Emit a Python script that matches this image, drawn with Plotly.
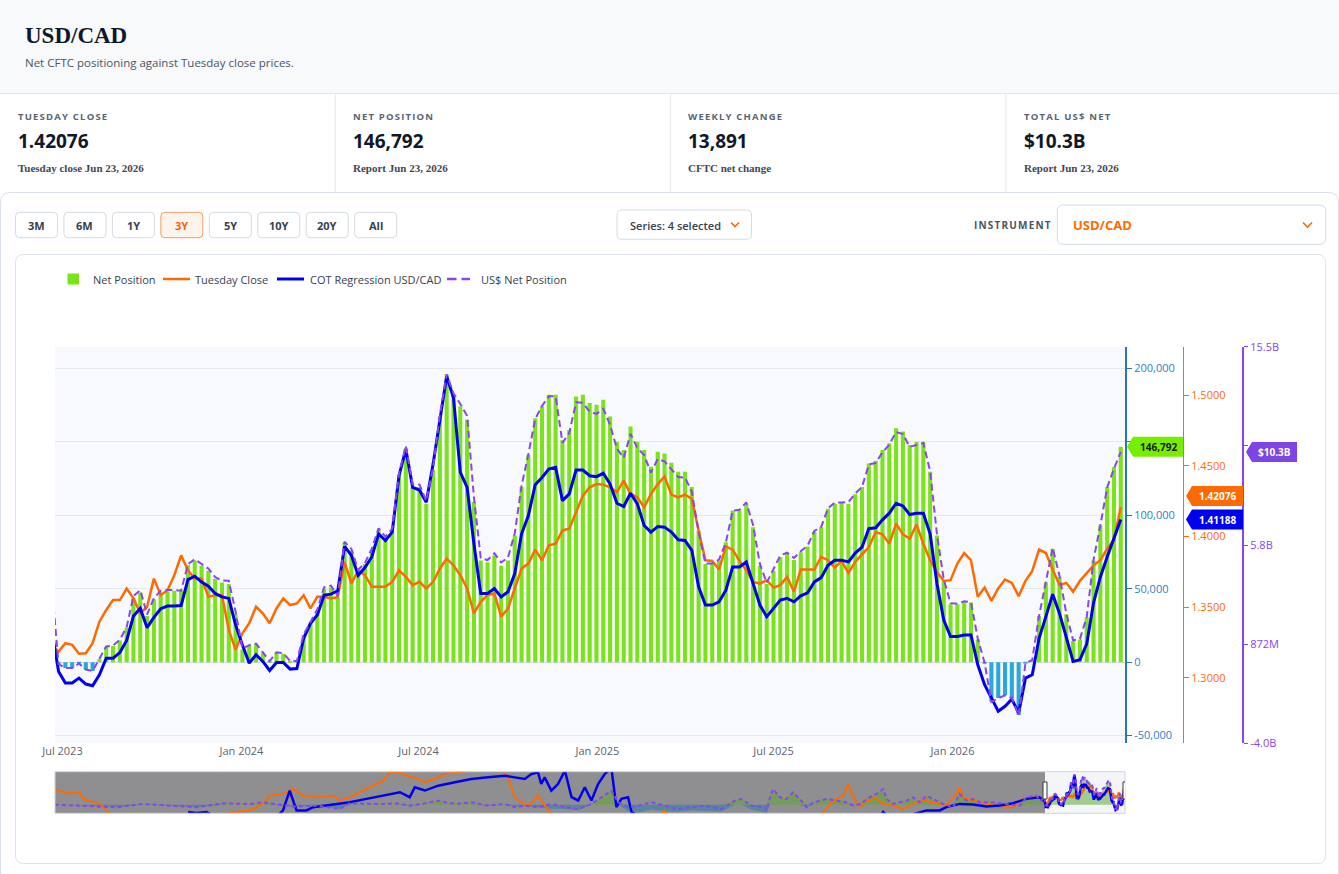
import plotly.graph_objects as go
import pandas as pd

W, H = 1339, 874
def P(x): return x / W
def Q(y): return 1 - y / H

SANS = "Open Sans, sans-serif"
SERIF = "Liberation Serif, Times New Roman, serif"

# ---------------- data (weekly CFTC reports, Tuesdays) ----------------
report_dates = pd.date_range("2023-06-20", "2026-06-23", freq="7D")

net_position = [
    50000, -1500, -4000, -4000, -1000, -5000, -6000, 2000, 10300, 11000,
    14800, 23500, 44000, 47500, 31500, 42900, 47500, 48200, 48600, 48600,
    66000, 69200, 65700, 62300, 56600, 54300, 53200, 32600, 8700, 11000,
    12100, 6400, 500, 6400, 5700, 700, 500, 18500, 27000, 35000,
    49800, 50900, 44000, 81700, 76000, 62300, 66900, 76000, 89700, 84000,
    89700, 127400, 145700, 119400, 119400, 108000, 130800, 167300, 195900, 182200,
    174200, 165100, 109100, 69200, 68000, 72600, 65700, 69200, 86300, 119400,
    141100, 166200, 174200, 182200, 182200, 151400, 158200, 181000, 182200, 176500,
    175300, 178800, 167300, 150200, 144500, 160500, 150200, 144500, 133100, 143400,
    142200, 135800, 129700, 129700, 119400, 89700, 66900, 66900, 69200, 81700,
    103400, 103400, 108000, 92000, 65700, 53200, 62300, 71500, 73700, 69600,
    74900, 78800, 88600, 92000, 104600, 108000, 108400, 108000, 114400, 119400,
    135400, 137200, 144500, 149100, 159400, 157100, 147900, 150200, 150200, 129700,
    86300, 55500, 39500, 39500, 41300, 40600, 15500, -500, -26700, -24400,
    -22600, -24400, -35900, -1000, 1400, 31500, 54300, 77200, 57800, 32600,
    14400, 15500, 30400, 69200, 93100, 119400, 132901, 146792,
]

tuesday_close = [
    1.3230, 1.3185, 1.3244, 1.3232, 1.3169, 1.3173, 1.3244, 1.3396, 1.3479, 1.3549,
    1.3549, 1.3631, 1.3561, 1.3455, 1.3502, 1.3701, 1.3584, 1.3619, 1.3725, 1.3866,
    1.3760, 1.3701, 1.3701, 1.3572, 1.3584, 1.3584, 1.3338, 1.3197, 1.3314, 1.3385,
    1.3502, 1.3455, 1.3385, 1.3490, 1.3561, 1.3514, 1.3525, 1.3584, 1.3490, 1.3572,
    1.3572, 1.3561, 1.3572, 1.3819, 1.3666, 1.3760, 1.3725, 1.3643, 1.3643, 1.3643,
    1.3678, 1.3760, 1.3713, 1.3655, 1.3678, 1.3631, 1.3678, 1.3772, 1.3842, 1.3795,
    1.3725, 1.3631, 1.3455, 1.3537, 1.3584, 1.3596, 1.3432, 1.3490, 1.3631, 1.3772,
    1.3807, 1.3906, 1.3831, 1.3936, 1.3948, 1.4042, 1.4054, 1.4171, 1.4288, 1.4347,
    1.4370, 1.4366, 1.4347, 1.4312, 1.4394, 1.4300, 1.4276, 1.4206, 1.4300, 1.4370,
    1.4424, 1.4295, 1.4276, 1.4295, 1.4265, 1.4042, 1.3831, 1.3826, 1.3765, 1.3929,
    1.3906, 1.3826, 1.3760, 1.3678, 1.3666, 1.3690, 1.3638, 1.3655, 1.3713, 1.3608,
    1.3765, 1.3765, 1.3765, 1.3854, 1.3831, 1.3779, 1.3826, 1.3741, 1.3819, 1.3873,
    1.3924, 1.4030, 1.4014, 1.3948, 1.4089, 1.4014, 1.3983, 1.4084, 1.3948, 1.3831,
    1.3748, 1.3685, 1.3690, 1.3807, 1.3882, 1.3831, 1.3572, 1.3638, 1.3544, 1.3631,
    1.3694, 1.3671, 1.3577, 1.3685, 1.3755, 1.3906, 1.3882, 1.3765, 1.3655, 1.3671,
    1.3608, 1.3685, 1.3737, 1.3795, 1.3831, 1.3913, 1.3976, 1.42076,
]

cot_regression = [
    1.3338, 1.3044, 1.2962, 1.2962, 1.2997, 1.2955, 1.2943, 1.3021, 1.3138, 1.3138,
    1.3178, 1.3263, 1.3436, 1.3490, 1.3354, 1.3427, 1.3488, 1.3507, 1.3507, 1.3511,
    1.3694, 1.3718, 1.3676, 1.3647, 1.3596, 1.3572, 1.3561, 1.3373, 1.3232, 1.3103,
    1.3162, 1.3115, 1.3051, 1.3108, 1.3108, 1.3061, 1.3065, 1.3279, 1.3385, 1.3443,
    1.3584, 1.3591, 1.3615, 1.3929, 1.3866, 1.3725, 1.3779, 1.3854, 1.4018, 1.3971,
    1.4030, 1.4429, 1.4617, 1.4347, 1.4328, 1.4241, 1.4511, 1.4816, 1.5133, 1.4981,
    1.4453, 1.4347, 1.3948, 1.3596, 1.3596, 1.3631, 1.3572, 1.3608, 1.3737, 1.4018,
    1.4147, 1.4366, 1.4417, 1.4476, 1.4488, 1.4253, 1.4300, 1.4469, 1.4469, 1.4429,
    1.4422, 1.4446, 1.4370, 1.4234, 1.4211, 1.4305, 1.4230, 1.4077, 1.4030, 1.4070,
    1.4065, 1.4030, 1.3976, 1.3971, 1.3901, 1.3643, 1.3514, 1.3514, 1.3537, 1.3619,
    1.3784, 1.3784, 1.3819, 1.3666, 1.3514, 1.3432, 1.3490, 1.3549, 1.3561, 1.3537,
    1.3579, 1.3601, 1.3678, 1.3708, 1.3795, 1.3831, 1.3831, 1.3819, 1.3882, 1.3924,
    1.4054, 1.4061, 1.4117, 1.4164, 1.4234, 1.4215, 1.4154, 1.4164, 1.4164, 1.4018,
    1.3666, 1.3408, 1.3291, 1.3291, 1.3302, 1.3302, 1.3091, 1.2950, 1.2857, 1.2763,
    1.2798, 1.2849, 1.2751, 1.2997, 1.3021, 1.3279, 1.3432, 1.3591, 1.3455, 1.3286,
    1.3115, 1.3127, 1.3239, 1.3530, 1.3713, 1.3854, 1.3983, 1.41188,
]

usd_net_bn = [
    3.78, -0.11, -0.30, -0.30, -0.08, -0.38, -0.45, 0.15, 0.76, 0.81,
    1.09, 1.72, 3.24, 3.53, 2.33, 3.13, 3.50, 3.54, 3.54, 3.50,
    4.80, 5.05, 4.80, 4.59, 4.17, 4.00, 3.99, 2.47, 0.65, 0.82,
    0.90, 0.48, 0.04, 0.47, 0.42, 0.05, 0.04, 1.36, 2.00, 2.58,
    3.67, 3.75, 3.24, 5.91, 5.56, 4.53, 4.87, 5.57, 6.57, 6.16,
    6.56, 9.26, 10.62, 8.74, 8.73, 7.92, 9.56, 12.15, 14.15, 13.21,
    12.69, 12.11, 8.11, 5.11, 5.01, 5.34, 4.89, 5.13, 6.33, 8.67,
    10.22, 11.95, 12.59, 13.07, 13.06, 10.78, 11.26, 12.77, 12.75, 12.30,
    12.20, 12.45, 11.66, 10.49, 10.04, 11.22, 10.52, 10.17, 9.31, 9.98,
    9.86, 9.50, 9.09, 9.07, 8.37, 6.39, 4.84, 4.84, 5.03, 5.87,
    7.44, 7.48, 7.85, 6.73, 4.81, 3.89, 4.57, 5.24, 5.37, 5.11,
    5.44, 5.72, 6.44, 6.64, 7.56, 7.84, 7.84, 7.86, 8.28, 8.61,
    9.72, 9.78, 10.31, 10.69, 11.31, 11.21, 10.58, 10.66, 10.77, 9.38,
    6.28, 4.06, 2.89, 2.86, 2.98, 2.94, 1.14, -0.04, -1.97, -1.79,
    -1.65, -1.78, -2.64, -0.07, 0.10, 2.27, 3.91, 5.61, 4.23, 2.38,
    1.06, 1.13, 2.21, 5.02, 6.73, 8.58, 9.51, 10.33,
]

# ---------------- full history for the navigator (decimal years) ----------------
hist_close_t = [1986.20, 1986.64, 1987.14, 1987.27, 1987.89, 1988.27, 1989.00, 1990.00, 1991.00, 1992.00,
                1992.91, 1993.54, 1994.04, 1994.29, 1994.79, 1995.17, 1995.55, 1996.05, 1996.68, 1996.93,
                1997.30, 1997.93, 1998.56, 1998.81, 1999.19, 1999.56, 1999.75, 2000.13, 2000.50, 2000.88,
                2001.26, 2001.88, 2002.20, 2002.90, 2003.26, 2003.39, 2003.51, 2003.76, 2004.01, 2004.26,
                2004.39, 2004.51, 2004.77, 2004.89, 2005.50, 2006.50, 2007.50, 2008.30, 2008.90, 2009.16,
                2009.50, 2010.50, 2011.50, 2012.50, 2013.50, 2014.50, 2015.13, 2015.50, 2015.88, 2016.07,
                2016.26, 2016.51, 2016.76, 2017.13, 2017.38, 2017.76, 2018.13, 2018.51, 2018.89, 2019.26,
                2019.76, 2020.14, 2020.26, 2020.39, 2020.76, 2021.27, 2021.77, 2022.27, 2022.65, 2023.02,
                2023.27]
hist_close = [1.418, 1.389, 1.396, 1.351, 1.317, 1.250, 1.19, 1.16, 1.16, 1.19,
              1.262, 1.273, 1.317, 1.373, 1.384, 1.418, 1.373, 1.362, 1.373, 1.340,
              1.362, 1.418, 1.474, 1.530, 1.530, 1.496, 1.496, 1.463, 1.485, 1.518,
              1.530, 1.541, 1.600, 1.580, 1.496, 1.429, 1.362, 1.328, 1.306, 1.340,
              1.373, 1.340, 1.284, 1.250, 1.200, 1.120, 1.050, 1.000, 1.220, 1.273,
              1.150, 1.030, 0.970, 1.000, 1.040, 1.080, 1.262, 1.340, 1.373, 1.451,
              1.362, 1.295, 1.340, 1.351, 1.317, 1.306, 1.284, 1.317, 1.340, 1.328,
              1.306, 1.384, 1.429, 1.362, 1.340, 1.317, 1.295, 1.295, 1.351, 1.362,
              1.362]

hist_reg_t = [1991.22, 1991.53, 1991.91, 1992.50, 1993.50, 1994.50, 1994.79, 1995.04, 1995.30, 1995.67,
              1995.92, 1996.43, 1996.93, 1997.30, 1997.93, 1998.56, 1999.19, 1999.56, 1999.75, 2000.13,
              2000.63, 2001.26, 2001.88, 2002.51, 2003.14, 2003.51, 2003.89, 2004.14, 2004.39, 2004.51,
              2004.64, 2004.89, 2005.14, 2005.40, 2005.65, 2005.90, 2006.15, 2006.40, 2006.65, 2006.90,
              2007.15, 2007.34, 2007.53, 2007.78, 2007.91, 2008.50, 2010.00, 2012.00, 2014.00, 2016.00,
              2017.30, 2017.38, 2017.50, 2018.00, 2019.01, 2019.51, 2019.76, 2020.26, 2020.76, 2021.27,
              2021.77, 2022.27, 2022.77, 2023.27]
hist_reg = [1.262, 1.255, 1.262, 1.20, 1.20, 1.22, 1.273, 1.407, 1.273, 1.273,
            1.295, 1.306, 1.317, 1.328, 1.351, 1.373, 1.396, 1.362, 1.429, 1.407,
            1.440, 1.463, 1.485, 1.496, 1.507, 1.496, 1.485, 1.518, 1.530, 1.451,
            1.496, 1.407, 1.451, 1.541, 1.362, 1.340, 1.429, 1.340, 1.451, 1.518,
            1.560, 1.295, 1.351, 1.362, 1.262, 1.20, 1.18, 1.18, 1.19, 1.20,
            1.24, 1.262, 1.24, 1.22, 1.273, 1.273, 1.295, 1.317, 1.313, 1.299,
            1.306, 1.322, 1.351, 1.362]

hist_usd_t = [1986.20, 1987.27, 1988.52, 1989.52, 1990.40, 1991.28, 1991.53, 1992.53, 1993.54, 1994.04,
              1994.79, 1995.17, 1996.05, 1996.93, 1997.30, 1998.56, 1999.06, 1999.56, 2000.00, 2000.63,
              2001.26, 2001.88, 2002.51, 2003.14, 2003.51, 2003.89, 2004.39, 2004.89, 2005.40, 2005.90,
              2006.40, 2006.90, 2007.15, 2007.41, 2007.78, 2008.16, 2008.66, 2009.16, 2009.66, 2010.17,
              2010.67, 2011.29, 2011.80, 2012.05, 2012.42, 2012.93, 2013.00, 2013.12, 2013.24, 2013.49,
              2013.74, 2013.99, 2014.24, 2014.50, 2014.75, 2015.25, 2015.63, 2016.00, 2016.26, 2016.51,
              2016.88, 2017.13, 2017.38, 2017.51, 2017.76, 2018.26, 2018.51, 2018.76, 2019.01, 2019.26,
              2019.64, 2020.01, 2020.26, 2020.51, 2020.76, 2021.02, 2021.52, 2022.02, 2022.52, 2022.77,
              2023.14, 2023.33]
hist_usd = [0.05, -0.42, -1.20, 0.36, -0.42, -0.89, -1.20, 0.67, 0.36, 1.14,
            -0.42, -0.89, -0.42, -1.98, 0.67, 0.36, 0.67, -0.42, 0.36, 1.92,
            0.36, 1.14, -0.42, 0.36, -1.20, -0.42, -1.20, 0.36, -1.20, -1.98,
            0.36, 4.27, 6.61, 1.14, -1.20, -0.42, 1.14, -0.42, -1.98, -1.20,
            -0.42, -1.98, 1.92, 2.70, -0.42, -1.20, -2.50, 3.49, 7.39, 3.49,
            2.70, 5.83, 2.70, -1.20, 1.14, 2.70, 1.92, 1.14, -0.42, 0.36,
            3.49, 5.05, 7.39, 2.70, 0.36, 1.92, 3.49, 1.14, 4.27, 2.70,
            0.36, -1.20, 5.05, 1.92, 2.70, 1.14, 1.14, 0.36, -0.42, 3.49,
            4.27, 1.92]

hist_net_t = hist_usd_t
hist_net = [1000, -5000, -16000, 5000, -5000, -12000, -16000, 10000, 5000, 16000,
            -5000, -12000, -5000, -27000, 10000, 5000, 10000, -5000, 5000, 27000,
            5000, 16000, -5000, 5000, -16000, -5000, -16000, -25000, -27000, -35000,
            5000, 60000, 92000, 16000, -40000, -50000, -30000, -40000, -45000, -35000,
            -40000, -45000, 27000, 38000, -30000, -50000, -55000, 49000, 103000, 49000,
            38000, 81000, 38000, -16000, 16000, 38000, 27000, 16000, -5000, 5000,
            49000, 70000, 103000, 38000, 5000, 27000, 49000, 16000, 60000, 38000,
            5000, -16000, 70000, 27000, 38000, 16000, 16000, 5000, -5000, 49000,
            60000, 27000]

# ticks (labels sitting under the last-value badges are left blank, as in the source)
net_tickvals = [-50000, 0, 50000, 100000, 150000, 200000]
net_ticktext = ["-50,000", "0", "50,000", "100,000", "", "200,000"]
usd_tickvals = [-4.006, 0.872, 5.75, 10.628, 15.506]
usd_ticktext = ["-4.0B", "872M", "5.8B", "", "15.5B"]

stat_labels = ["TUESDAY CLOSE", "NET POSITION", "WEEKLY CHANGE", "TOTAL US$ NET"]
stat_subs = ["Tuesday close Jun 23, 2026", "Report Jun 23, 2026", "CFTC net change", "Report Jun 23, 2026"]
range_buttons = ["3M", "6M", "1Y", "3Y", "5Y", "10Y", "20Y", "All"]
active_button = "3Y"

# axis ranges
x_range = ["2023-06-23 08:00", "2026-06-27 08:00"]
thumb_start = "1986-03-17"
net_range = [-55250, 214900]
px_range = [1.25359, 1.53417]
usd_range = [-4.006, 15.506]

# colours
GREEN, NEG = "#7be319", "#2aa7df"
ORANGE, BLUE, PURPLE = "#ff6a00", "#0000f0", "#8a44f2"
NETAX = "#2577bd"


def yr(v):
    y = int(v)
    return pd.Timestamp(y, 1, 1) + pd.Timedelta(days=(v - y) * 365.25)


fig = go.Figure()

# ---------- main chart ----------
fig.add_bar(x=report_dates, y=net_position, name="Net Position",
            marker=dict(color=[GREEN if v >= 0 else NEG for v in net_position], line=dict(width=0)),
            xaxis="x", yaxis="y", showlegend=False)
fig.add_scatter(x=report_dates, y=tuesday_close, name="Tuesday Close", mode="lines",
                line=dict(color=ORANGE, width=2.5), xaxis="x", yaxis="y2", showlegend=False)
fig.add_scatter(x=report_dates, y=cot_regression, name="COT Regression USD/CAD", mode="lines",
                line=dict(color=BLUE, width=3), xaxis="x", yaxis="y2", showlegend=False)
fig.add_scatter(x=report_dates, y=usd_net_bn, name="US$ Net Position", mode="lines",
                line=dict(color=PURPLE, width=2, dash="7px,4px"), xaxis="x", yaxis="y3", showlegend=False)

# ---------- navigator (full history) ----------
nav_dates_net = [yr(t) for t in hist_net_t] + list(report_dates)
nav_net = hist_net + net_position
fig.add_scatter(x=nav_dates_net, y=[max(v, 0) for v in nav_net], mode="lines", fill="tozeroy",
                fillcolor="rgba(95,170,50,0.55)", line=dict(width=0), xaxis="x2", yaxis="y5",
                showlegend=False, hoverinfo="skip")
fig.add_scatter(x=nav_dates_net, y=[min(v, 0) for v in nav_net], mode="lines", fill="tozeroy",
                fillcolor="rgba(30,125,175,0.5)", line=dict(width=0), xaxis="x2", yaxis="y5",
                showlegend=False, hoverinfo="skip")
fig.add_scatter(x=[yr(t) for t in hist_close_t] + list(report_dates), y=hist_close + tuesday_close,
                mode="lines", line=dict(color=ORANGE, width=2), xaxis="x2", yaxis="y6",
                showlegend=False, hoverinfo="skip")
fig.add_scatter(x=[yr(t) for t in hist_reg_t] + list(report_dates), y=hist_reg + cot_regression,
                mode="lines", line=dict(color=BLUE, width=2.5), xaxis="x2", yaxis="y6",
                showlegend=False, hoverinfo="skip")
fig.add_scatter(x=[yr(t) for t in hist_usd_t] + list(report_dates), y=hist_usd + usd_net_bn,
                mode="lines", line=dict(color=PURPLE, width=2, dash="4px,3px"), xaxis="x2", yaxis="y7",
                showlegend=False, hoverinfo="skip")

dom_x = [P(55), P(1125)]
dom_main = [Q(743.3), Q(346.7)]
dom_nav = [Q(813.3), Q(771.7)]

fig.update_layout(
    width=W, height=H, margin=dict(l=0, r=0, t=0, b=0, pad=0, autoexpand=False),
    paper_bgcolor="white", plot_bgcolor="rgba(0,0,0,0)",
    bargap=0.4, showlegend=False, font=dict(family=SANS),
    xaxis=dict(domain=dom_x, range=x_range, anchor="y", type="date", showgrid=False, zeroline=False,
               showline=False, ticks="", tickformat="%b %Y", dtick="M6", tick0="2023-07-01",
               automargin=False, tickfont=dict(family=SANS, size=11, color="#5b6470")),
    yaxis=dict(domain=dom_main, range=net_range, side="right", anchor="x", tickvals=net_tickvals,
               ticktext=net_ticktext, showline=True, linecolor=NETAX, linewidth=2, ticks="outside",
               ticklen=5, tickcolor=NETAX, tickfont=dict(family=SANS, size=11, color="#2f7fc1"),
               showgrid=True, gridcolor="#e4e8ef", gridwidth=1, zeroline=True, automargin=False,
               zerolinecolor="#d3d8e0", zerolinewidth=1),
    yaxis2=dict(overlaying="y", anchor="free", position=P(1183), side="right", range=px_range,
                tickformat=".4f", dtick=0.05, tick0=1.3, showline=True, linecolor=ORANGE, linewidth=1,
                ticks="outside", ticklen=5, tickcolor=ORANGE, automargin=False,
                tickfont=dict(family=SANS, size=11, color=ORANGE), showgrid=False, zeroline=False),
    yaxis3=dict(overlaying="y", anchor="free", position=P(1243), side="right", range=usd_range,
                tickvals=usd_tickvals, ticktext=usd_ticktext, showline=True, linecolor=PURPLE,
                linewidth=2, ticks="outside", ticklen=4, tickcolor=PURPLE, automargin=False,
                tickfont=dict(family=SANS, size=11, color=PURPLE), showgrid=False, zeroline=False),
    xaxis2=dict(domain=dom_x, range=[thumb_start, x_range[1]], anchor="y5", type="date",
                visible=False, automargin=False),
    yaxis5=dict(domain=dom_nav, range=net_range, anchor="x2", visible=False, automargin=False),
    yaxis6=dict(overlaying="y5", anchor="x2", range=px_range, visible=False, automargin=False),
    yaxis7=dict(overlaying="y5", anchor="x2", range=usd_range, visible=False, automargin=False),
)


# ---------- page chrome ----------
def rrect(x0, y0, x1, y1, r, **kw):
    path = (f"M{P(x0 + r)},{Q(y0)} L{P(x1 - r)},{Q(y0)} Q{P(x1)},{Q(y0)} {P(x1)},{Q(y0 + r)} "
            f"L{P(x1)},{Q(y1 - r)} Q{P(x1)},{Q(y1)} {P(x1 - r)},{Q(y1)} L{P(x0 + r)},{Q(y1)} "
            f"Q{P(x0)},{Q(y1)} {P(x0)},{Q(y1 - r)} L{P(x0)},{Q(y0 + r)} Q{P(x0)},{Q(y0)} {P(x0 + r)},{Q(y0)} Z")
    return dict(type="path", xref="paper", yref="paper", path=path, **kw)


def prect(x0, y0, x1, y1, **kw):
    return dict(type="rect", xref="paper", yref="paper", x0=P(x0), x1=P(x1), y0=Q(y1), y1=Q(y0), **kw)


def pline(x0, y0, x1, y1, color, width=1, dash=None, layer="below"):
    return dict(type="line", xref="paper", yref="paper", x0=P(x0), x1=P(x1), y0=Q(y0), y1=Q(y1),
                line=dict(color=color, width=width, dash=dash), layer=layer)


def txt(x, y, s, size=11, color="#374151", family=SANS, weight="normal", xanchor="left"):
    return dict(x=P(x), y=Q(y), xref="paper", yref="paper", text=s, showarrow=False,
                xanchor=xanchor, yanchor="middle",
                font=dict(family=family, size=size, color=color, weight=weight))


shapes, annos = [], []

# header band
shapes.append(prect(0, 0, W, 93, fillcolor="#f7f9fb", line=dict(width=0), layer="below"))
shapes.append(pline(0, 93.5, W, 93.5, "#e3e8ee"))
annos.append(txt(23, 35, "USD/CAD", size=23, color="#0f172a", family=SERIF, weight="bold"))
annos.append(txt(23, 62.5, "Net CFTC positioning against Tuesday close prices.", size=11.5, color="#4b5563"))

# stats row
weekly_change = net_position[-1] - net_position[-2]
stat_values = [f"{tuesday_close[-1]:.5f}", f"{net_position[-1]:,}", f"{weekly_change:,}",
               f"${usd_net_bn[-1]:.1f}B"]
for k in range(4):
    cx = 15.7 + 335.3 * k
    annos.append(txt(cx, 116.5, f'<span style="letter-spacing:1.2px">{stat_labels[k]}</span>',
                     size=9.5, color="#5b6472", weight="bold"))
    annos.append(txt(cx, 141, stat_values[k], size=19, color="#111827", weight="bold"))
    annos.append(txt(cx, 168.3, stat_subs[k], size=11, color="#3f4753", family=SERIF, weight="bold"))
    if k > 0:
        shapes.append(pline(335.3 * k, 94, 335.3 * k, 192, "#e3e8ee"))

# outer card and chart container
shapes.append(rrect(0.5, 192.5, W - 0.5, 905, 10, line=dict(color="#d9e0e8", width=1),
                    fillcolor="rgba(0,0,0,0)", layer="below"))
shapes.append(rrect(15.5, 254.5, 1325.5, 863.5, 8, line=dict(color="#dde3ea", width=1),
                    fillcolor="white", layer="below"))

# range buttons
for k, lab in enumerate(range_buttons):
    bx = 15.5 + 48.45 * k
    on = lab == active_button
    shapes.append(rrect(bx, 212.3, bx + 42, 237.7, 4,
                        line=dict(color="#f39a5e" if on else "#d5dbe3", width=1),
                        fillcolor="#fff4ec" if on else "white", layer="below"))
    annos.append(txt(bx + 21, 225, lab, size=11, color="#f2650f" if on else "#374151",
                     weight="bold", xanchor="center"))

# series dropdown
shapes.append(rrect(617, 210, 751.5, 239.3, 5, line=dict(color="#d5dbe3", width=1),
                    fillcolor="white", layer="below"))
annos.append(txt(628, 225, "Series: 4 selected", size=11, color="#374151", weight=600))
shapes.append(dict(type="path", xref="paper", yref="paper", layer="below",
                   path=f"M{P(731)},{Q(222.5)} L{P(735)},{Q(226.5)} L{P(739)},{Q(222.5)}",
                   line=dict(color=ORANGE, width=1.6)))

# instrument selector
annos.append(txt(972, 225, '<span style="letter-spacing:1.2px">INSTRUMENT</span>', size=10,
                 color="#4b5563", weight="bold"))
shapes.append(rrect(1057.3, 205, 1325.7, 244.3, 6, line=dict(color="#d6dce4", width=1),
                    fillcolor="white", layer="below"))
annos.append(txt(1070.5, 225, "USD/CAD", size=13, color=ORANGE, weight="bold"))
shapes.append(dict(type="path", xref="paper", yref="paper", layer="below",
                   path=f"M{P(1303)},{Q(222.5)} L{P(1307.5)},{Q(227)} L{P(1312)},{Q(222.5)}",
                   line=dict(color=ORANGE, width=1.6)))

# legend
legend_y = 279
shapes.append(prect(67.5, 273.5, 79, 284.5, fillcolor=GREEN, line=dict(width=0), layer="below"))
annos.append(txt(91, legend_y, "Net Position", size=11, color="#374151"))
shapes.append(pline(163, legend_y, 190, legend_y, ORANGE, 2.5))
annos.append(txt(193, legend_y, "Tuesday Close", size=11, color="#374151"))
shapes.append(pline(277, legend_y, 304, legend_y, BLUE, 3))
annos.append(txt(308, legend_y, "COT Regression USD/CAD", size=11, color="#374151"))
shapes.append(pline(447, legend_y, 456.5, legend_y, PURPLE, 2.5))
shapes.append(pline(461.5, legend_y, 470, legend_y, PURPLE, 2.5))
annos.append(txt(479, legend_y, "US$ Net Position", size=11, color="#374151"))

# main plot background
shapes.append(prect(55, 346.7, 1125, 743.3, fillcolor="#f8f9fc", line=dict(width=0), layer="below"))

# navigator background, window and grabbers
shapes.append(dict(type="rect", xref="x2", yref="paper", x0=thumb_start, x1=x_range[0],
                   y0=dom_nav[0], y1=dom_nav[1], fillcolor="#8f8f91", line=dict(width=0), layer="below"))
shapes.append(dict(type="rect", xref="x2", yref="paper", x0=x_range[0], x1=x_range[1],
                   y0=dom_nav[0], y1=dom_nav[1], fillcolor="#f3f5f9", line=dict(width=0), layer="below"))
shapes.append(prect(55, 771.7, 1125, 813.3, fillcolor="rgba(0,0,0,0)",
                    line=dict(color="#cdd5df", width=1), layer="above"))
for xa in x_range:
    shapes.append(dict(type="rect", xref="x2", yref="paper", xsizemode="pixel", xanchor=xa,
                       x0=-2, x1=2, y0=Q(799), y1=Q(782), fillcolor="white",
                       line=dict(color="#3a3a3a", width=1), layer="above"))

# last-value badges
badges = [
    ("y", P(1125), net_position[-1], "#77ee00", "#1a1a1a", f"{net_position[-1]:,}", 2, 8, 58, 0),
    ("y2", P(1183), tuesday_close[-1], ORANGE, "white", f"{tuesday_close[-1]:.5f}", 3, 9, 60, 11),
    ("y2", P(1183), cot_regression[-1], BLUE, "white", f"{cot_regression[-1]:.5f}", 3, 9, 60, 0),
    ("y3", P(1243), usd_net_bn[-1], "#7d44e6", "white", f"${usd_net_bn[-1]:.1f}B", 3, 9, 54, 0),
]
for yref, xa, val, fill, tcol, label, tip, b0, b1, dy in badges:
    shapes.append(dict(type="path", xref="paper", yref=yref, xsizemode="pixel", ysizemode="pixel",
                       xanchor=xa, yanchor=val,
                       path=f"M{tip},{dy} L{b0},{dy + 10} L{b1},{dy + 10} L{b1},{dy - 10} L{b0},{dy - 10} Z",
                       fillcolor=fill, line=dict(width=0), layer="above"))
    annos.append(dict(x=xa, xref="paper", y=val, yref=yref, xshift=(b0 + b1) / 2, yshift=dy,
                      text=f"<b>{label}</b>", showarrow=False, xanchor="center", yanchor="middle",
                      font=dict(family=SANS, size=10, color=tcol)))

fig.update_layout(shapes=shapes, annotations=annos)
fig.write_html("out.html")
